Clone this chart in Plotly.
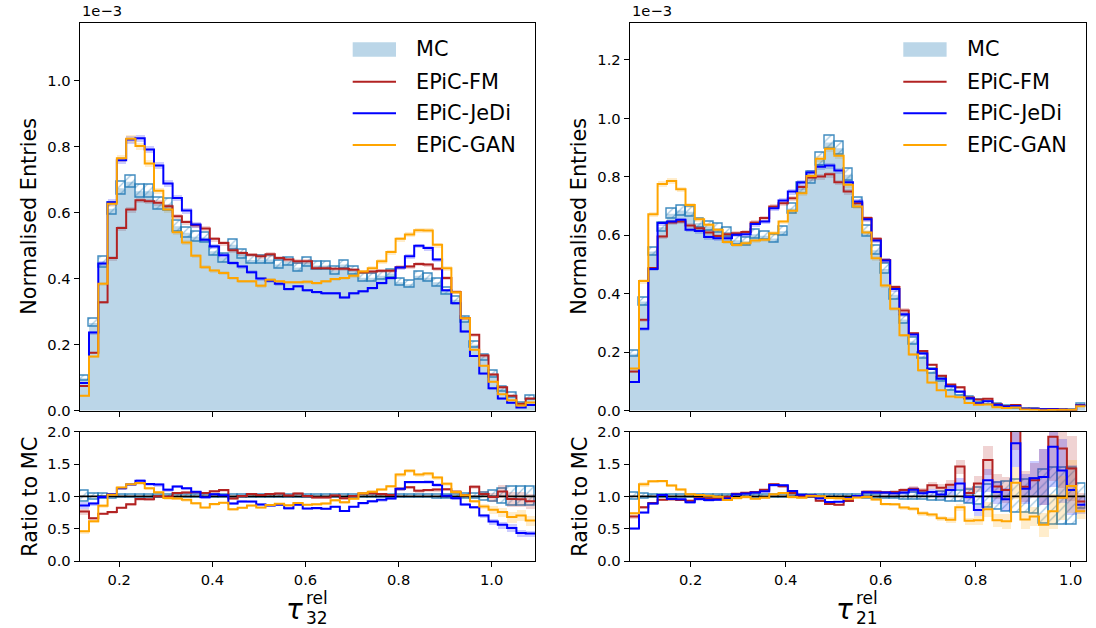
import numpy as np
import plotly.graph_objects as go

W, H = 1096, 628

# ---------------- data (normalised entries, in units of 1e-3) ----------------
n_bins = 49
tau32_lim = [0.115, 1.093]
tau21_lim = [0.0716, 1.031]
x_ticks = [0.2, 0.4, 0.6, 0.8, 1.0]
y_ticks_32 = [0.0, 0.2, 0.4, 0.6, 0.8, 1.0]
y_ticks_21 = [0.0, 0.2, 0.4, 0.6, 0.8, 1.0, 1.2]
ratio_ticks = [0.0, 0.5, 1.0, 1.5, 2.0]
series_names = ["MC", "EPiC-FM", "EPiC-JeDi", "EPiC-GAN"]

mc_32 = [0.098, 0.266, 0.450, 0.612, 0.674, 0.694, 0.665, 0.665, 0.628, 0.625,
         0.559, 0.539, 0.527, 0.525, 0.483, 0.463, 0.503, 0.475, 0.457, 0.458,
         0.458, 0.443, 0.452, 0.434, 0.450, 0.440, 0.440, 0.425, 0.443, 0.425,
         0.403, 0.403, 0.409, 0.416, 0.389, 0.383, 0.409, 0.403, 0.389, 0.362,
         0.336, 0.275, 0.200, 0.161, 0.111, 0.066, 0.047, 0.022, 0.040]
fm_32 = [0.075, 0.176, 0.329, 0.463, 0.554, 0.610, 0.638, 0.635, 0.630, 0.620,
         0.589, 0.572, 0.562, 0.552, 0.521, 0.508, 0.486, 0.478, 0.473, 0.468,
         0.474, 0.463, 0.458, 0.453, 0.453, 0.432, 0.432, 0.430, 0.430, 0.427,
         0.420, 0.422, 0.424, 0.424, 0.435, 0.437, 0.445, 0.443, 0.430, 0.402,
         0.360, 0.280, 0.230, 0.167, 0.110, 0.071, 0.045, 0.021, 0.037]
jedi_32 = [0.084, 0.237, 0.446, 0.632, 0.759, 0.822, 0.826, 0.792, 0.743, 0.689,
           0.645, 0.607, 0.564, 0.518, 0.498, 0.471, 0.448, 0.437, 0.420, 0.401,
           0.394, 0.385, 0.369, 0.377, 0.365, 0.360, 0.356, 0.356, 0.343, 0.356,
           0.362, 0.372, 0.387, 0.402, 0.434, 0.468, 0.500, 0.493, 0.458, 0.365,
           0.326, 0.240, 0.166, 0.113, 0.068, 0.037, 0.024, 0.0095, 0.017]
gan_32 = [0.045, 0.164, 0.385, 0.627, 0.765, 0.824, 0.802, 0.749, 0.667, 0.610,
          0.541, 0.510, 0.470, 0.435, 0.425, 0.417, 0.402, 0.392, 0.392, 0.379,
          0.397, 0.392, 0.389, 0.389, 0.391, 0.387, 0.392, 0.399, 0.402, 0.409,
          0.422, 0.432, 0.453, 0.481, 0.521, 0.534, 0.547, 0.546, 0.503, 0.432,
          0.359, 0.280, 0.185, 0.136, 0.088, 0.050, 0.032, 0.0155, 0.025]
relerr_32 = [0.08, 0.045, 0.035, 0.03, 0.028, 0.028, 0.028, 0.028, 0.028, 0.028,
             0.028, 0.028, 0.028, 0.028, 0.028, 0.028, 0.028, 0.028, 0.028, 0.028,
             0.028, 0.028, 0.028, 0.028, 0.028, 0.028, 0.028, 0.028, 0.028, 0.028,
             0.028, 0.028, 0.028, 0.028, 0.028, 0.028, 0.028, 0.028, 0.03, 0.03,
             0.032, 0.035, 0.04, 0.06, 0.09, 0.12, 0.15, 0.15, 0.15]

mc_21 = [0.195, 0.374, 0.545, 0.628, 0.674, 0.685, 0.681, 0.642, 0.630, 0.624,
         0.611, 0.583, 0.579, 0.604, 0.599, 0.589, 0.614, 0.692, 0.761, 0.797,
         0.860, 0.918, 0.898, 0.807, 0.712, 0.615, 0.549, 0.485, 0.397, 0.312,
         0.237, 0.187, 0.134, 0.106, 0.076, 0.055, 0.043, 0.032, 0.026, 0.019,
         0.015, 0.009, 0.006, 0.005, 0.0035, 0.003, 0.0025, 0.0023, 0.020]
fm_21 = [0.134, 0.311, 0.488, 0.596, 0.644, 0.647, 0.634, 0.624, 0.610, 0.598,
         0.604, 0.607, 0.611, 0.644, 0.659, 0.699, 0.710, 0.727, 0.765, 0.798,
         0.801, 0.809, 0.782, 0.750, 0.710, 0.659, 0.588, 0.516, 0.423, 0.343,
         0.265, 0.204, 0.157, 0.120, 0.0897, 0.0803, 0.0452, 0.0384, 0.0406, 0.0219,
         0.0165, 0.0194, 0.0069, 0.00625, 0.00455, 0.00576, 0.00435, 0.00329, 0.0184]
jedi_21 = [0.098, 0.280, 0.485, 0.642, 0.647, 0.653, 0.619, 0.615, 0.594, 0.590,
           0.590, 0.602, 0.604, 0.639, 0.647, 0.693, 0.719, 0.750, 0.781, 0.815,
           0.835, 0.839, 0.822, 0.782, 0.716, 0.655, 0.582, 0.514, 0.416, 0.330,
           0.261, 0.196, 0.143, 0.109, 0.0836, 0.066, 0.0426, 0.0253, 0.0325, 0.0203,
           0.0143, 0.0164, 0.0067, 0.0064, 0.00455, 0.0053, 0.0035, 0.00253, 0.0174]
gan_21 = [0.144, 0.444, 0.672, 0.776, 0.786, 0.758, 0.704, 0.655, 0.636, 0.619,
          0.577, 0.567, 0.573, 0.582, 0.585, 0.607, 0.647, 0.684, 0.744, 0.803,
          0.862, 0.896, 0.872, 0.773, 0.699, 0.610, 0.522, 0.428, 0.349, 0.258,
          0.192, 0.138, 0.0965, 0.070, 0.0486, 0.0457, 0.0267, 0.0202, 0.0208, 0.0120,
          0.0092, 0.0109, 0.00384, 0.00345, 0.00196, 0.00231, 0.00245, 0.00267, 0.0154]
relerr_21 = [0.05, 0.035, 0.025, 0.025, 0.025, 0.025, 0.025, 0.025, 0.025, 0.025,
             0.025, 0.025, 0.025, 0.025, 0.025, 0.025, 0.025, 0.025, 0.025, 0.025,
             0.025, 0.025, 0.025, 0.025, 0.025, 0.03, 0.03, 0.035, 0.04, 0.045,
             0.05, 0.055, 0.06, 0.07, 0.08, 0.09, 0.11, 0.13, 0.18, 0.21,
             0.23, 0.25, 0.26, 0.27, 0.42, 0.44, 0.44, 0.44, 0.19]
model_err_scale = 0.5  # generated samples: relative uncertainty vs. MC

# ---------------- styles ----------------
FONT = "DejaVu Sans"
MC_FILL = "rgba(31,119,180,0.3)"
HATCH = "rgba(31,119,180,0.85)"
COLORS = {"EPiC-FM": (178, 34, 34), "EPiC-JeDi": (0, 0, 255), "EPiC-GAN": (255, 165, 0)}


def rgba(c, a):
    return f"rgba({c[0]},{c[1]},{c[2]},{a})"


def px_x(p):
    return p / W


def px_y(p):
    return 1 - p / H


fig = go.Figure()


def add_panel(xt, yt, xb, yb, lim, mc, models, relerr):
    edges = np.linspace(lim[0], lim[1], n_bins + 1)
    centers = 0.5 * (edges[:-1] + edges[1:])
    w = edges[1] - edges[0]
    mc = np.asarray(mc, dtype=float)
    rel = np.asarray(relerr, dtype=float)
    mrel = rel * model_err_scale
    # --- top: MC filled histogram
    fig.add_trace(go.Scatter(x=edges, y=np.append(mc, mc[-1]), mode="lines",
                             line=dict(width=0, shape="hv"), fill="tozeroy",
                             fillcolor=MC_FILL, xaxis=xt, yaxis=yt, hoverinfo="skip"))
    hatch_marker = dict(color="rgba(0,0,0,0)", line=dict(color=HATCH, width=1.4),
                        pattern=dict(shape="/", fgcolor=HATCH, bgcolor="rgba(0,0,0,0)",
                                     size=6, solidity=0.2))
    # --- top: MC hatched uncertainty
    fig.add_trace(go.Bar(x=centers, y=2 * mc * rel, base=mc * (1 - rel), width=w,
                         marker=hatch_marker, xaxis=xt, yaxis=yt, hoverinfo="skip"))
    # --- ratio: MC band
    fig.add_trace(go.Bar(x=centers, y=2 * rel, base=1 - rel, width=w,
                         marker=hatch_marker, xaxis=xb, yaxis=yb, hoverinfo="skip"))
    # --- model uncertainty bands
    for name, vals in models:
        v = np.asarray(vals, dtype=float)
        c = COLORS[name]
        err = v * mrel
        fig.add_trace(go.Bar(x=centers, y=2 * err, base=v - err, width=w,
                             marker=dict(color=rgba(c, 0.2), line=dict(width=0)),
                             xaxis=xt, yaxis=yt, hoverinfo="skip"))
        r = v / mc
        rerr = r * mrel * 1.6
        fig.add_trace(go.Bar(x=centers, y=2 * rerr, base=r - rerr, width=w,
                             marker=dict(color=rgba(c, 0.2), line=dict(width=0)),
                             xaxis=xb, yaxis=yb, hoverinfo="skip"))
    fig.add_trace(go.Scatter(x=[lim[0], lim[1]], y=[1, 1], mode="lines",
                             line=dict(color="black", width=1.6), xaxis=xb, yaxis=yb,
                             hoverinfo="skip"))
    for name, vals in models:
        v = np.asarray(vals, dtype=float)
        c = COLORS[name]
        fig.add_trace(go.Scatter(x=edges, y=np.append(v, v[-1]), mode="lines",
                                 line=dict(color=rgba(c, 1), width=2, shape="hv"),
                                 xaxis=xt, yaxis=yt, hoverinfo="skip"))
        r = v / mc
        fig.add_trace(go.Scatter(x=edges, y=np.append(r, r[-1]), mode="lines",
                                 line=dict(color=rgba(c, 1), width=2, shape="hv"),
                                 xaxis=xb, yaxis=yb, hoverinfo="skip"))


add_panel("x", "y", "x2", "y2", tau32_lim, mc_32,
          [("EPiC-FM", fm_32), ("EPiC-JeDi", jedi_32), ("EPiC-GAN", gan_32)], relerr_32)
add_panel("x3", "y3", "x4", "y4", tau21_lim, mc_21,
          [("EPiC-FM", fm_21), ("EPiC-JeDi", jedi_21), ("EPiC-GAN", gan_21)], relerr_21)

TICKF = 14.7
axis_common = dict(showline=True, linecolor="black", linewidth=1.1, mirror=True,
                   ticks="outside", ticklen=5, tickwidth=1.1, tickcolor="black",
                   showgrid=False, zeroline=False, automargin=False,
                   tickfont=dict(family=FONT, size=TICKF, color="black"))

left_dom = [px_x(79.7), px_x(535.0)]
right_dom = [px_x(629.7), px_x(1085.5)]
top_dom = [px_y(410.7), px_y(22.7)]
bot_dom = [px_y(561.0), px_y(431.7)]


def fmt(vals):
    return [f"{v:.1f}" for v in vals]


fig.update_layout(
    width=W, height=H, autosize=False,
    margin=dict(l=0, r=0, t=0, b=0, pad=0, autoexpand=False),
    paper_bgcolor="white", plot_bgcolor="white", showlegend=False,
    barmode="overlay", bargap=0,
    xaxis=dict(domain=left_dom, anchor="y", range=tau32_lim, tickvals=x_ticks,
               showticklabels=False, **axis_common),
    yaxis=dict(domain=top_dom, anchor="x", range=[0, 1.176], tickvals=y_ticks_32,
               ticktext=fmt(y_ticks_32), **axis_common),
    xaxis2=dict(domain=left_dom, anchor="y2", range=tau32_lim, tickvals=x_ticks,
                ticktext=fmt(x_ticks), **axis_common),
    yaxis2=dict(domain=bot_dom, anchor="x2", range=[0, 2], tickvals=ratio_ticks,
                ticktext=fmt(ratio_ticks), **axis_common),
    xaxis3=dict(domain=right_dom, anchor="y3", range=tau21_lim, tickvals=x_ticks,
                showticklabels=False, **axis_common),
    yaxis3=dict(domain=top_dom, anchor="x3", range=[0, 1.3275], tickvals=y_ticks_21,
                ticktext=fmt(y_ticks_21), **axis_common),
    xaxis4=dict(domain=right_dom, anchor="y4", range=tau21_lim, tickvals=x_ticks,
                ticktext=fmt(x_ticks), **axis_common),
    yaxis4=dict(domain=bot_dom, anchor="x4", range=[0, 2], tickvals=ratio_ticks,
                ticktext=fmt(ratio_ticks), **axis_common),
)

annotations = []
shapes = []
LBL = 20.8


def txt(x, y, s, size, xa="center", ya="middle", angle=0, pad=1):
    annotations.append(dict(x=px_x(x), y=px_y(y), xref="paper", yref="paper", text=s,
                            showarrow=False, xanchor=xa, yanchor=ya, textangle=angle,
                            borderpad=pad,
                            font=dict(family=FONT, size=size, color="black")))


for x0, xlab_c, sub in [(79.7, 294, "32"), (629.7, 844, "21")]:
    txt(x0, 20.5, "1e\u22123", TICKF, xa="left", ya="bottom")
    txt(x0 - 51, 216, "Normalised Entries", LBL, angle=-90)
    txt(x0 - 50, 497, "Ratio to MC", LBL, angle=-90)
    txt(xlab_c, 609, "<i>\u03c4</i>", 27.8)
    txt(xlab_c + 11, 597.5, "rel", 17, xa="left", pad=0)
    txt(xlab_c + 11, 617.5, sub, 17, xa="left", pad=0)

# legends (one per panel)
for lx in [352.7, 903.3]:
    rows = [49.5, 81.7, 113.3, 145.0]
    shapes.append(dict(type="rect", xref="paper", yref="paper",
                       x0=px_x(lx), x1=px_x(lx + 43.3), y0=px_y(rows[0] + 7.3),
                       y1=px_y(rows[0] - 7.3), fillcolor=MC_FILL, line=dict(width=0)))
    for name, ry in zip(series_names[1:], rows[1:]):
        shapes.append(dict(type="line", xref="paper", yref="paper",
                           x0=px_x(lx), x1=px_x(lx + 43.3), y0=px_y(ry), y1=px_y(ry),
                           line=dict(color=rgba(COLORS[name], 1), width=2)))
    for name, ry in zip(series_names, rows):
        txt(lx + 61.6, ry, name, LBL, xa="left")

fig.update_layout(annotations=annotations, shapes=shapes)
fig.write_html("out.html")
